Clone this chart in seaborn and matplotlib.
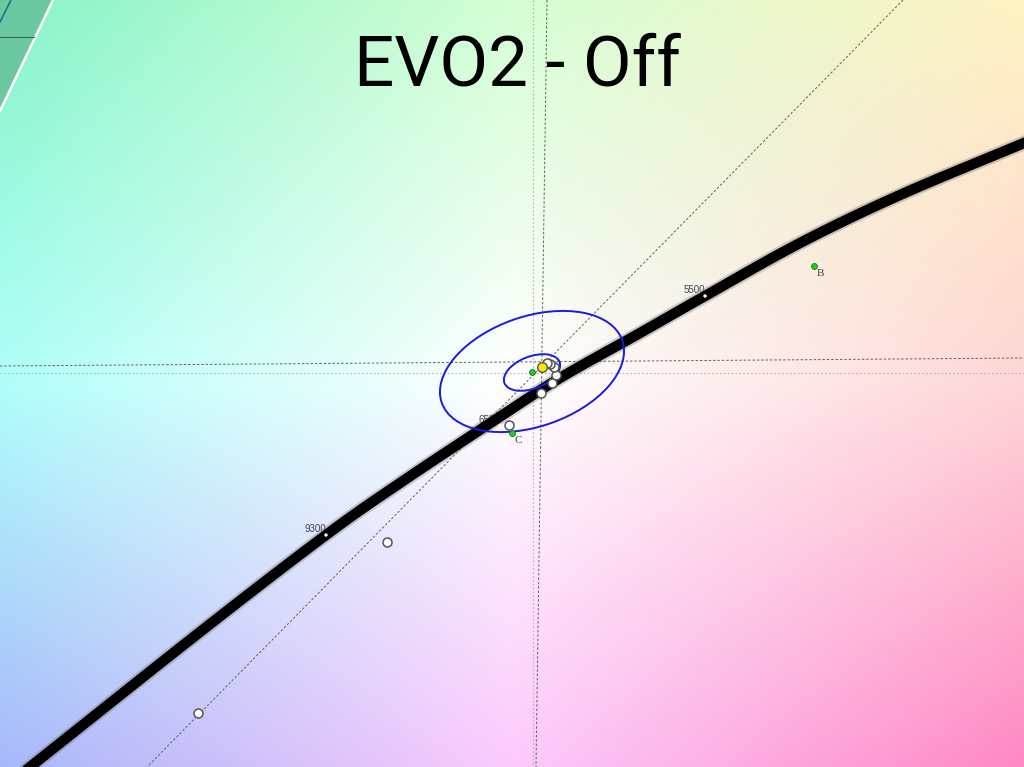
import matplotlib
matplotlib.use("Agg")
import numpy as np
import pandas as pd
import matplotlib.pyplot as plt
import seaborn as sns
from matplotlib.patches import Ellipse, Polygon

# zoomed chromaticity view, in view units (x right, y down)
locus_x = [30, 200, 326, 400, 495, 560, 640, 705, 800, 900, 1024]
locus_y = [767, 632, 535, 483, 420, 378, 333, 296, 243, 195, 143]

cct_names = ["9300", "6500", "5500"]
cct_x = [326, 500, 705]
cct_y = [535, 426, 296]

# measured patches (white), target (yellow)
meas_x = [198, 387, 509, 541, 552, 556, 554, 550, 547]
meas_y = [713, 542, 425, 393, 383, 375, 367, 364, 363]
target_x = [542]
target_y = [367]

# reference illuminants
ref_names = ["", "B", "C"]
ref_x = [532, 814, 512]
ref_y = [372, 266, 433]

# tolerance ellipses
ell_cx = [532, 532]
ell_cy = [371.5, 372.5]
ell_w = [191, 59]
ell_h = [110, 32]
ell_angle = [-19, -21]

# background colour field (3x3 control grid, corners / edges / centre)
bg_ctrl = np.array([
    [[0x88, 0xf4, 0xc8], [0xd4, 0xfe, 0xd4], [0xff, 0xf2, 0xc2]],
    [[0xb0, 0xff, 0xfa], [0xff, 0xff, 0xff], [0xff, 0xd6, 0xd6]],
    [[0xa8, 0xb8, 0xfa], [0xfc, 0xca, 0xfc], [0xff, 0x88, 0xc4]],
]) / 255.0


def smooth_curve(xs, ys, n=12):
    # Catmull-Rom through the read-off points
    p = np.column_stack([xs, ys]).astype(float)
    p = np.vstack([2 * p[0] - p[1], p, 2 * p[-1] - p[-2]])
    out = []
    t = np.linspace(0, 1, n, endpoint=False)[:, None]
    for i in range(1, len(p) - 2):
        p0, p1, p2, p3 = p[i - 1], p[i], p[i + 1], p[i + 2]
        seg = 0.5 * ((2 * p1) + (-p0 + p2) * t + (2 * p0 - 5 * p1 + 4 * p2 - p3) * t ** 2
                     + (-p0 + 3 * p1 - 3 * p2 + p3) * t ** 3)
        out.append(seg)
    out.append(p[-2][None, :])
    out = np.vstack(out)
    return out[:, 0], out[:, 1]


def background(h=256, w=342):
    gy = np.linspace(0, 2, h)
    gx = np.linspace(0, 2, w)
    img = np.zeros((h, w, 3))
    for c in range(3):
        rows = np.array([np.interp(gx, [0, 1, 2], bg_ctrl[r, :, c]) for r in range(3)])
        img[:, :, c] = np.array([np.interp(gy, [0, 1, 2], rows[:, j]) for j in range(w)]).T
    return img


def main():
    fig = plt.figure(figsize=(10.24, 7.67), dpi=100)
    ax = fig.add_axes([0, 0, 1, 1])
    ax.imshow(background(), extent=(0, 1024, 767, 0), interpolation="bilinear",
              aspect="auto", zorder=0)

    # gamut corner, top left
    ax.add_patch(Polygon([(0, 0), (53, 0), (0, 111)], closed=True, facecolor="#6cc8a0",
                         edgecolor="none", zorder=1))
    ax.plot([0, 53], [111, 0], color="white", lw=1.8, zorder=2)
    ax.plot([0, 11], [22, 0], color="#107c80", lw=1.2, zorder=2)
    ax.plot([0, 34], [37, 37], color="#3a6a5a", lw=0.8, zorder=2)

    # guide lines
    light = dict(color="#b4b4b4", lw=0.8, ls=(0, (1.5, 2)), zorder=2)
    dark = dict(color="#606060", lw=0.7, ls=(0, (2.5, 2)), zorder=2)
    ax.plot([532.5, 532.5], [0, 767], **light)
    ax.plot([0, 1024], [373, 373], **light)
    ax.plot([547, 536], [0, 767], **dark)
    ax.plot([0, 1024], [366, 358], **dark)
    ax.plot([903, 147], [0, 767], **dark)

    # CCT labels under the locus
    for name, x, y in zip(cct_names, cct_x, cct_y):
        ax.annotate(name, (x, y), xytext=(0, 1), textcoords="offset points", ha="right",
                    va="bottom", fontsize=7, family="Liberation Sans", color="#444455", zorder=3)

    # Planckian locus
    sx, sy = smooth_curve(locus_x, locus_y)
    df = pd.DataFrame({"x": sx, "y": sy})
    sns.lineplot(data=df, x="x", y="y", sort=False, estimator=None, color="#777777",
                 lw=10.5, alpha=0.35, ax=ax, zorder=4)
    sns.lineplot(data=df, x="x", y="y", sort=False, estimator=None, color="black",
                 lw=7.5, ax=ax, zorder=5)
    sns.scatterplot(x=cct_x, y=cct_y, s=6, color="white", edgecolor="none", ax=ax, zorder=6)

    # tolerance ellipses
    for cx, cy, w, h, a in zip(ell_cx, ell_cy, ell_w, ell_h, ell_angle):
        ax.add_patch(Ellipse((cx, cy), w, h, angle=a, fill=False, edgecolor="#1a1ae0",
                             lw=1.4, zorder=7))

    # reference illuminants
    sns.scatterplot(x=ref_x, y=ref_y, s=18, color="#22cc22", edgecolor="#117711",
                    linewidth=0.6, ax=ax, zorder=8)
    for name, x, y in zip(ref_names, ref_x, ref_y):
        ax.annotate(name, (x, y), xytext=(2, -2), textcoords="offset points", ha="left",
                    va="top", fontsize=8, family="Liberation Serif", color="#444444", zorder=8)

    # measurements
    sns.scatterplot(x=meas_x, y=meas_y, s=42, color="white", edgecolor="#555555",
                    linewidth=1.1, ax=ax, zorder=9)
    sns.scatterplot(x=target_x, y=target_y, s=48, color="#ffe800", edgecolor="#555555",
                    linewidth=1.0, ax=ax, zorder=10)

    ax.text(517, 86, "EVO2 - Off", ha="center", va="baseline", fontsize=51,
            family="Roboto", color="black", zorder=11)

    ax.set_xlim(0, 1024)
    ax.set_ylim(767, 0)
    ax.axis("off")
    fig.savefig("out.png", dpi=100)
    plt.close(fig)


if __name__ == "__main__":
    main()
